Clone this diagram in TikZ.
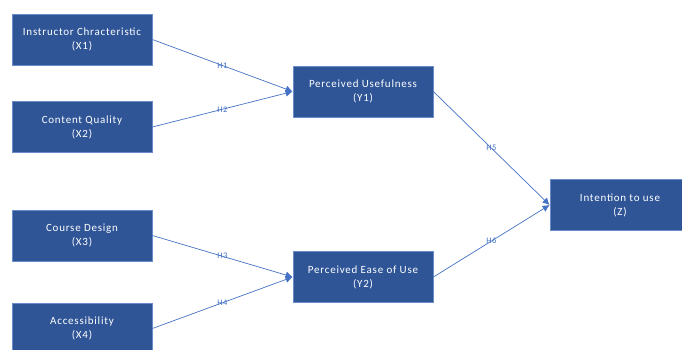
\documentclass[tikz,border=0pt]{standalone}
\usepackage{fontspec}
\setmainfont{Carlito}
\usetikzlibrary{positioning}
\usetikzlibrary{arrows.meta}
\definecolor{boxblue}{HTML}{2F5597}
\definecolor{edgeblue}{HTML}{6A8CC8}
\definecolor{lineblue}{HTML}{4472C4}
\tikzset{
        every node/.style={align=center},
        varbox/.style={draw=edgeblue,fill=boxblue,text=white,line width=0.8pt,
                minimum width=140pt,minimum height=51pt,inner sep=0pt,
                font=\fontsize{11}{14}\selectfont\addfontfeatures{LetterSpace=7}},
        hypo/.style={draw=lineblue,line width=0.7pt,-{Latex[length=7pt,width=7pt]}},
        hlabel/.style={text=lineblue,font=\fontsize{8.5}{9}\selectfont\addfontfeatures{LetterSpace=5},inner sep=0pt},
        }

\begin{document}
\begin{tikzpicture}[x=1pt,y=-1pt]

		% page...................
		\useasboundingbox (0,0) rectangle (682,349);
		\clip (0,0) rectangle (682,349);

		% exogenous variables....................
		\node [varbox] (x1) at (82,39.5) {Instructor Chracteristic\\(X1)};
		\node [varbox] (x2) at (82,127) {Content Quality\\(X2)};
		\node [varbox] (x3) at (82,235.5) {Course Design\\(X3)};
		\node [varbox] (x4) at (82,328.5) {Accessibility\\(X4)};

		% mediators....................
		\node [varbox] (y1) at (363,91.5) {Perceived Usefulness\\(Y1)};
		\node [varbox] (y2) at (363,277) {Perceived Ease of Use\\(Y2)};

		% outcome...................
		\node [varbox] (z) at (620,205) {Intention to use\\(Z)};

		% hypotheses.............
		\draw [hypo] (x1.east) to node [hlabel] {H1} (y1.west);
		\draw [hypo] (x2.east) to node [hlabel] {H2} (y1.west);
		\draw [hypo] (x3.east) to node [hlabel] {H3} (y2.west);
		\draw [hypo] (x4.east) to node [hlabel] {H4} (y2.west);
		\draw [hypo] (y1.east) to node [hlabel] {H5} (z.west);
		\draw [hypo] (y2.east) to node [hlabel] {H6} (z.west);

	\end{tikzpicture}
\end{document}
